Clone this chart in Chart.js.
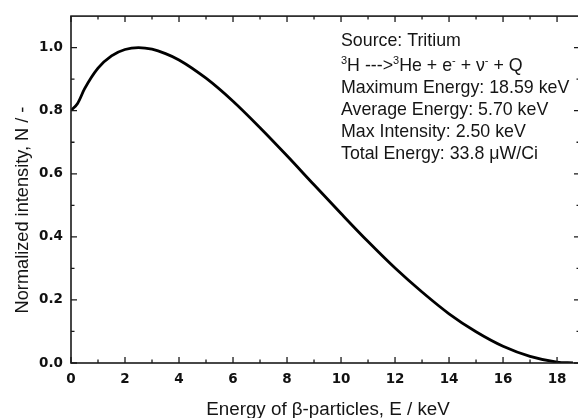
<!DOCTYPE html>
<html><head><meta charset="utf-8">
<script src="https://cdn.jsdelivr.net/npm/chart.js@4"></script>
<style>
html,body{margin:0;padding:0;background:#fff;overflow:hidden;}
#wrap{width:582px;height:418px;position:relative;}
</style>
</head><body>
<div id="wrap"><canvas id="c"></canvas></div>
<script>
// ---- data ----
const energyKeV = [0, 0.25, 0.5, 1, 1.5, 2, 2.5, 3, 3.5, 4, 5, 6, 7, 8, 9, 10, 11, 12, 13, 14, 15, 16, 17, 18, 18.59];
const intensity = [0.801, 0.824, 0.869, 0.935, 0.974, 0.994, 1.000, 0.995, 0.981, 0.961, 0.903, 0.830, 0.746, 0.657, 0.565, 0.474, 0.385, 0.301, 0.225, 0.156, 0.099, 0.053, 0.021, 0.003, 0];

const xTickValues = [0, 2, 4, 6, 8, 10, 12, 14, 16, 18];
const xMinorValues = [1, 3, 5, 7, 9, 11, 13, 15, 17];
const yTickValues = [0, 0.2, 0.4, 0.6, 0.8, 1.0];
const yMinorValues = [0.1, 0.3, 0.5, 0.7, 0.9];

const xTitle = 'Energy of \u03B2-particles, E / keV';
const yTitle = 'Normalized intensity, N / -';

const infoLines = [
  [{t: 'Source: Tritium'}],
  [{t: '3', sup: true}, {t: 'H --->'}, {t: '3', sup: true}, {t: 'He + e'}, {t: '-', sup: true}, {t: ' + \u03BD'}, {t: '-', sup: true}, {t: ' + Q'}],
  [{t: 'Maximum Energy: 18.59 keV'}],
  [{t: 'Average Energy: 5.70 keV'}],
  [{t: 'Max Intensity: 2.50 keV'}],
  [{t: 'Total Energy: 33.8 \u03BCW/Ci'}]
];

const decor = {
  id: 'decor',
  afterDatasetsDraw(chart) {
    const {ctx, chartArea: a, scales: {x, y}} = chart;
    ctx.save();
    // frame
    ctx.strokeStyle = '#1a1a1a';
    ctx.lineWidth = 1.6;
    ctx.strokeRect(a.left, a.top, a.right - a.left, a.bottom - a.top);
    // inward ticks on all four sides
    ctx.lineWidth = 1.3;
    ctx.beginPath();
    const xt = (v, L) => {
      const px = x.getPixelForValue(v);
      ctx.moveTo(px, a.bottom); ctx.lineTo(px, a.bottom - L);
      ctx.moveTo(px, a.top); ctx.lineTo(px, a.top + L);
    };
    const yt = (v, L) => {
      const py = y.getPixelForValue(v);
      ctx.moveTo(a.left, py); ctx.lineTo(a.left + L, py);
      ctx.moveTo(a.right, py); ctx.lineTo(a.right - L, py);
    };
    xTickValues.forEach(v => xt(v, 6));
    xMinorValues.forEach(v => xt(v, 3.5));
    yTickValues.forEach(v => yt(v, 6));
    yMinorValues.forEach(v => yt(v, 3.5));
    ctx.stroke();

    // axis titles
    ctx.fillStyle = '#151515';
    ctx.font = '18.8px "Liberation Sans", Arial, sans-serif';
    ctx.textAlign = 'center';
    ctx.textBaseline = 'alphabetic';
    ctx.fillText(xTitle, 328, 415);
    ctx.save();
    ctx.translate(27.5, 210);
    ctx.rotate(-Math.PI / 2);
    ctx.font = '18.2px "Liberation Sans", Arial, sans-serif';
    ctx.fillText(yTitle, 0, 0);
    ctx.restore();

    // info text block
    ctx.textAlign = 'left';
    const baselines = [46, 70.7, 93.3, 115, 137.3, 159.3];
    infoLines.forEach((segs, i) => {
      let cx = 341;
      segs.forEach(s => {
        if (s.sup) {
          ctx.font = '11px "Liberation Sans", Arial, sans-serif';
          ctx.fillText(s.t, cx, baselines[i] - 6.5);
        } else {
          ctx.font = '17.8px "Liberation Sans", Arial, sans-serif';
          ctx.fillText(s.t, cx, baselines[i]);
        }
        cx += ctx.measureText(s.t).width;
      });
    });
    ctx.restore();
  }
};

new Chart(document.getElementById('c'), {
  type: 'line',
  data: {
    datasets: [{
      data: energyKeV.map((e, i) => ({x: e, y: intensity[i]})),
      borderColor: '#000',
      borderWidth: 2.8,
      pointRadius: 0,
      fill: false,
      cubicInterpolationMode: 'monotone'
    }]
  },
  options: {
    animation: false,
    responsive: true,
    maintainAspectRatio: false,
    layout: {padding: {top: 14, right: 2, left: 0, bottom: 0}},
    plugins: {legend: {display: false}, tooltip: {enabled: false}},
    scales: {
      x: {
        type: 'linear', min: 0, max: 18.85,
        grid: {display: false, drawTicks: false, tickLength: 0}, border: {display: false},
        ticks: {
          padding: 8, color: '#111', maxRotation: 0, autoSkip: false, includeBounds: false,
          font: {family: 'DejaVu Sans', weight: 'bold', size: 13.5},
          callback: v => String(v)
        },
        afterBuildTicks: s => { s.ticks = xTickValues.map(v => ({value: v})); },
        afterFit: s => { s.height = 55; }
      },
      y: {
        type: 'linear', min: 0, max: 1.1,
        grid: {display: false, drawTicks: false, tickLength: 0}, border: {display: false},
        ticks: {
          padding: 8, color: '#111', autoSkip: false, includeBounds: false,
          font: {family: 'DejaVu Sans', weight: 'bold', size: 13.5},
          callback: v => Number(v).toFixed(1)
        },
        afterBuildTicks: s => { s.ticks = yTickValues.map(v => ({value: v})); },
        afterFit: s => { s.width = 71; }
      }
    }
  },
  plugins: [decor]
});
</script>
</body></html>
